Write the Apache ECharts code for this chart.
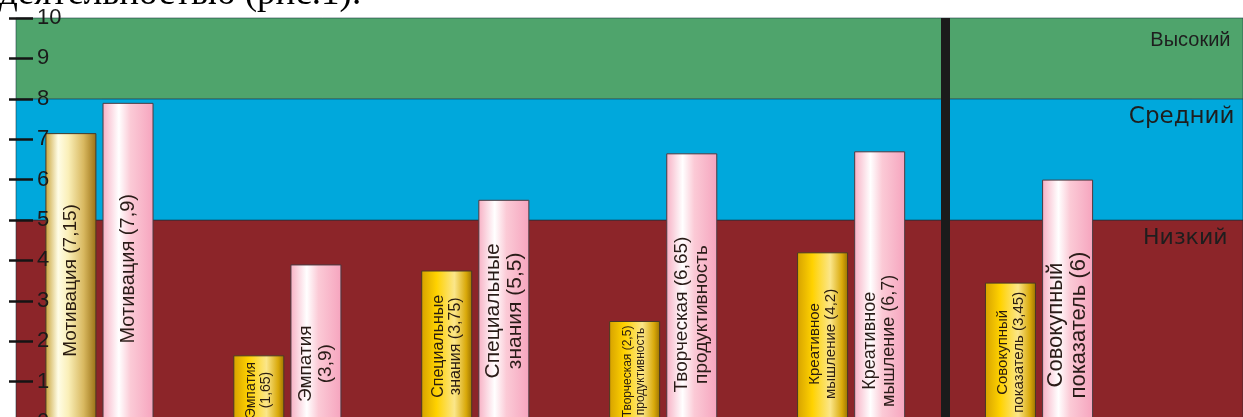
<!DOCTYPE html>
<html>
<head>
<meta charset="utf-8">
<script src="https://cdn.jsdelivr.net/npm/echarts@6/dist/echarts.min.js"></script>
<style>
  html, body { margin: 0; padding: 0; background: #fff; }
  #chart { width: 1243px; height: 417px; }
</style>
</head>
<body>
<div id="chart"></div>
<script>
// показатели до и после (шкала 0..10)
const categories = ['Мотивация', 'Эмпатия', 'Специальные знания', 'Творческая продуктивность', 'Креативное мышление', 'Совокупный показатель'];
const beforeValues = [7.15, 1.65, 3.75, 2.5, 4.2, 3.45];
const afterValues = [7.9, 3.9, 5.5, 6.65, 6.7, 6];

// подписи внутри столбцов
const labelTemplates = [
  'Мотивация ({v})',
  'Эмпатия\n({v})',
  'Специальные\nзнания ({v})',
  'Творческая ({v})\nпродуктивность',
  'Креативное\nмышление ({v})',
  'Совокупный\nпоказатель ({v})'
];

// уровни
const levelNames = ['Низкий', 'Средний', 'Высокий'];
const levelBounds = [0, 5, 8, 10];

// разметка
const WIDTH = 1243;
const plotLeft = 16;
const barGridLeft = 5.5;
const barGridRight = 110;
const catUnit = (WIDTH - barGridLeft - barGridRight) / categories.length;

// оформление
const NARROW = 'Liberation Sans Narrow, Liberation Sans';
const REGULAR = 'Liberation Sans';
const levelColors = ['#8c2529', '#00a8dc', '#4fa46c'];
const levelLabelStyle = [
  { fontSize: 22, fontFamily: 'DejaVu Sans', offset: [-16, 8] },
  { fontSize: 23, fontFamily: 'DejaVu Sans', offset: [-9, 7] },
  { fontSize: 20, fontFamily: NARROW, offset: [-13, 13] }
];
const goldFontSize = [19, 14, 16, 12, 15, 15];
const goldLabelAt = [51, 52, 50, 50, 54, 50];
const pinkFontSize = [20, 19, 21, 19, 18, 22];
const pinkLabelAt = [52, 63, 50, 60, 70, 60];

const fmt = (v) => String(v).replace('.', ',');
const labelText = (i, v) => labelTemplates[i].replace('{v}', fmt(v));

const gradient = (stops) => new echarts.graphic.LinearGradient(0, 0, 1, 0,
  stops.map(s => ({ offset: s[0], color: s[1] })));

const paleGold = gradient([[0, '#c9a43a'], [0.25, '#fffde6'], [0.45, '#faefb8'], [0.75, '#d8b860'], [1, '#9a7014']]);
const gold = gradient([[0, '#d6a200'], [0.3, '#ffd200'], [0.65, '#fbe68a'], [0.88, '#d9a90a'], [1, '#9c7200']]);
const pink = gradient([[0, '#f7b0c4'], [0.32, '#ffffff'], [0.55, '#fbcad6'], [1, '#f6a4be']]);

const chart = echarts.init(document.getElementById('chart'));

const bands = levelNames.map((name, i) => [
  {
    yAxis: levelBounds[i],
    name: name,
    itemStyle: { color: levelColors[i] },
    label: {
      fontSize: levelLabelStyle[i].fontSize,
      fontFamily: levelLabelStyle[i].fontFamily,
      offset: levelLabelStyle[i].offset
    }
  },
  { yAxis: levelBounds[i + 1] }
]);

const barItem = (sizes, family, at) => (v, i) => ({
  value: v,
  label: {
    position: ['50%', at[i] + '%'],
    fontSize: sizes[i],
    lineHeight: Math.round(sizes[i] * 1.05),
    fontFamily: family
  }
});

const barLabel = (color) => ({
  show: true,
  rotate: 90,
  align: 'center',
  verticalAlign: 'middle',
  color: color,
  formatter: (p) => labelText(p.dataIndex, p.value)
});

const option = {
  animation: false,
  backgroundColor: '#ffffff',
  title: {
    text: 'деятельностью (рис.1).',
    left: -6,
    top: -29,
    textStyle: { fontFamily: 'Liberation Serif', fontSize: 37, fontWeight: 'normal', color: '#000' }
  },
  grid: [
    { left: plotLeft, right: 0, top: 18, bottom: -5, outerBoundsMode: 'none' },
    { left: barGridLeft, right: barGridRight, top: 18, bottom: -5, outerBoundsMode: 'none' }
  ],
  xAxis: [
    {
      // та же шкала категорий, растянутая на всю ширину фона
      gridIndex: 0,
      type: 'value',
      min: (plotLeft - barGridLeft) / catUnit,
      max: (WIDTH - barGridLeft) / catUnit,
      show: false
    },
    {
      gridIndex: 1,
      type: 'category',
      data: categories,
      axisLine: { show: false },
      axisTick: { show: false },
      axisLabel: { show: false },
      splitLine: { show: false }
    }
  ],
  yAxis: [
    {
      gridIndex: 0,
      type: 'value',
      position: 'left',
      offset: -17,
      min: 0,
      max: 10,
      interval: 1,
      z: 5,
      axisLine: { show: false },
      axisTick: { show: true, length: 24, lineStyle: { color: '#141414', width: 2.5 } },
      axisLabel: { inside: true, margin: 4, color: '#1a1a1a', fontSize: 22, fontFamily: REGULAR },
      splitLine: { show: false }
    },
    { gridIndex: 1, type: 'value', min: 0, max: 10, show: false, splitLine: { show: false } }
  ],
  series: [
    {
      type: 'line',
      xAxisIndex: 0,
      yAxisIndex: 0,
      z: 0,
      data: [],
      silent: true,
      markArea: {
        silent: true,
        itemStyle: { borderColor: 'rgba(20,50,60,0.55)', borderWidth: 1 },
        label: { show: true, position: 'insideTopRight', distance: 0, color: '#1e1e1e' },
        data: bands
      },
      markLine: {
        silent: true,
        symbol: 'none',
        label: { show: false },
        lineStyle: { color: '#1b1b1b', width: 9, type: 'solid' },
        data: [{ xAxis: categories.length - 1 }]
      }
    },
    {
      type: 'bar',
      xAxisIndex: 1,
      yAxisIndex: 1,
      barWidth: 51,
      barGap: '12%',
      data: beforeValues.map(barItem(goldFontSize, NARROW, goldLabelAt)),
      itemStyle: {
        color: (p) => (p.dataIndex === 0 ? paleGold : gold),
        borderColor: '#4a3826',
        borderWidth: 1
      },
      label: barLabel('#2a1c10')
    },
    {
      type: 'bar',
      xAxisIndex: 1,
      yAxisIndex: 1,
      barWidth: 51,
      data: afterValues.map(barItem(pinkFontSize, REGULAR, pinkLabelAt)),
      itemStyle: { color: pink, borderColor: '#4a3a40', borderWidth: 1 },
      label: barLabel('#2a1c18')
    }
  ]
};

chart.setOption(option);
</script>
</body>
</html>
